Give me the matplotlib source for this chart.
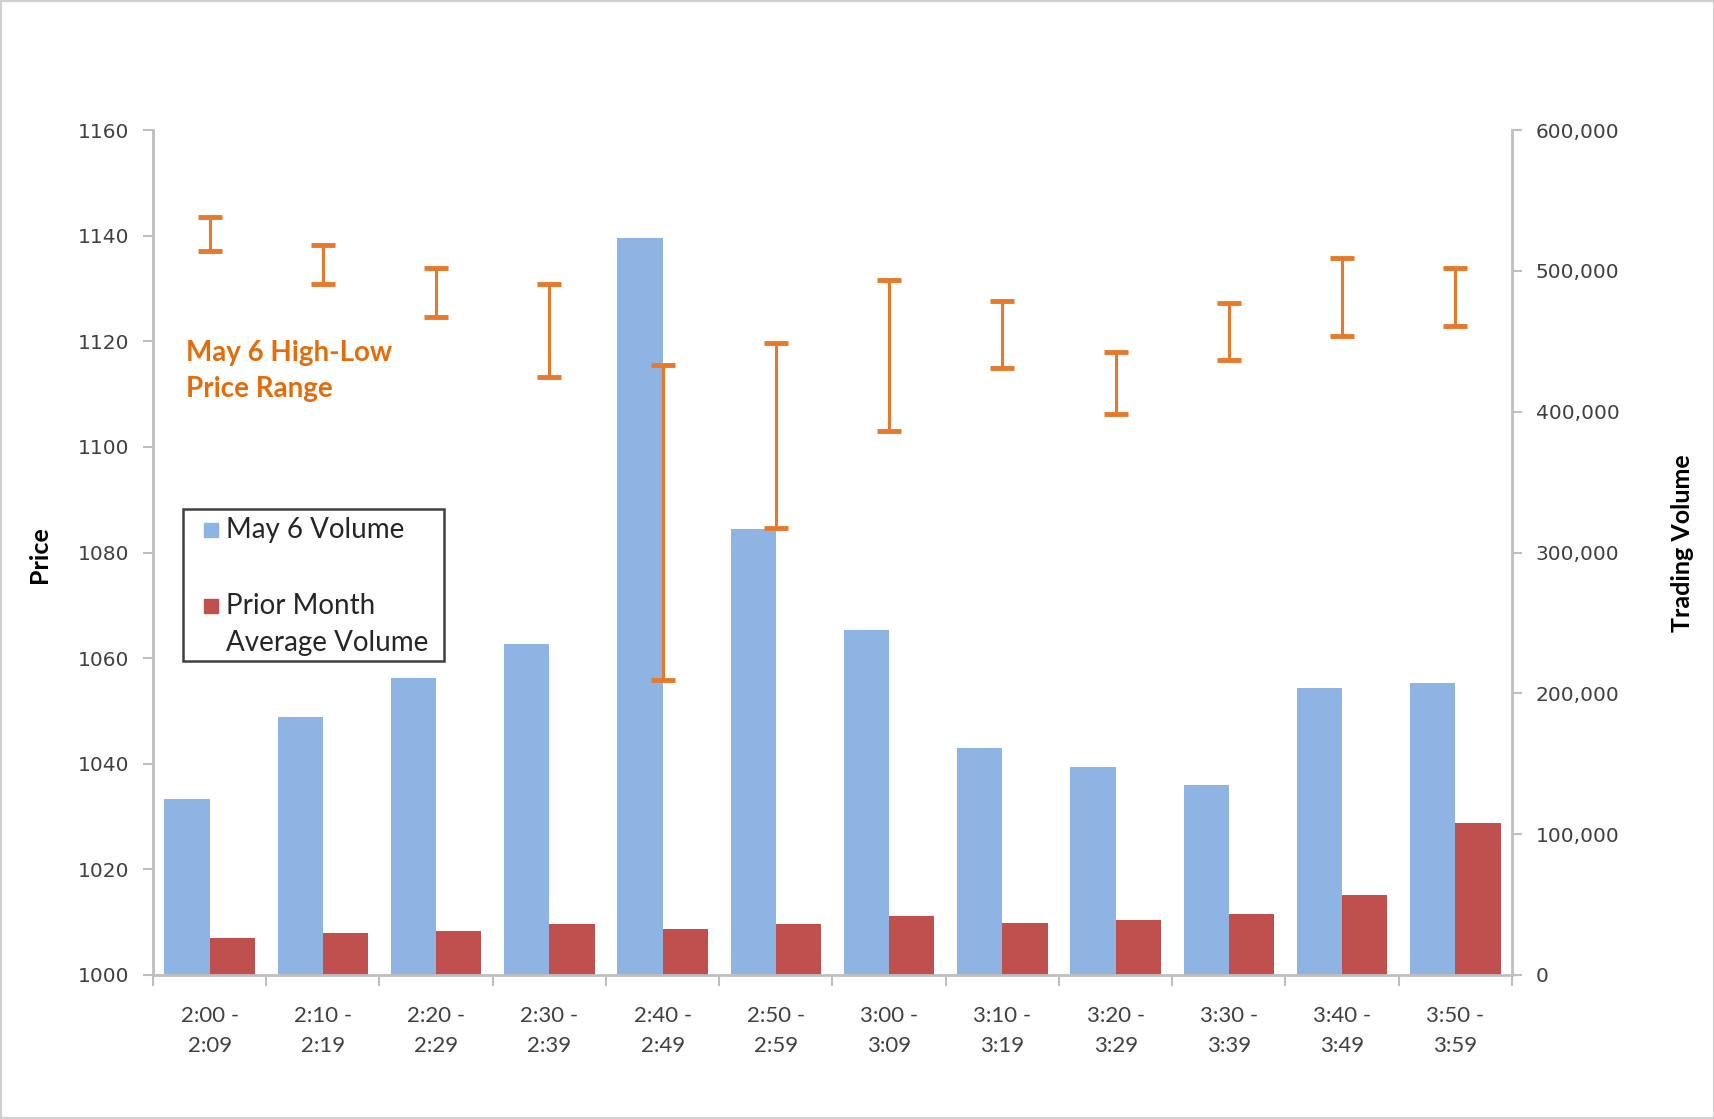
import numpy as np
import matplotlib
matplotlib.use("Agg")
from matplotlib import pyplot as plt
from matplotlib.patches import Rectangle
from matplotlib.ticker import FuncFormatter

# time buckets on May 6
intervals = ["2:00 -\n2:09", "2:10 -\n2:19", "2:20 -\n2:29", "2:30 -\n2:39",
             "2:40 -\n2:49", "2:50 -\n2:59", "3:00 -\n3:09", "3:10 -\n3:19",
             "3:20 -\n3:29", "3:30 -\n3:39", "3:40 -\n3:49", "3:50 -\n3:59"]
may6_volume = [125000, 183000, 211000, 235000, 523000, 317000,
               245000, 161000, 148000, 135000, 204000, 207000]
prior_avg_volume = [26000, 30000, 31000, 36000, 33000, 36000,
                    42000, 37000, 39000, 43000, 57000, 108000]
price_high = [1143.6, 1138.2, 1133.9, 1130.8, 1115.6, 1119.6,
              1131.6, 1127.7, 1117.9, 1127.3, 1135.8, 1133.9]
price_low = [1137.0, 1130.8, 1124.6, 1113.2, 1055.8, 1084.6,
             1103.0, 1115.0, 1106.3, 1116.5, 1121.0, 1122.9]
price_ticks = list(range(1000, 1161, 20))
volume_ticks = list(range(0, 600001, 100000))

BLUE = "#8DB4E2"
RED = "#C0504D"
ORANGE = "#E8792B"
GRID = "#BFBFBF"
TXT = "#404040"

fig = plt.figure(figsize=(17.15, 11.19), dpi=100)
ax = fig.add_axes([0.0892, 0.1287, 0.7924, 0.7551])
ax2 = ax.twinx()
# error bars (price) drawn above the volume bars
ax.set_zorder(2)
ax2.set_zorder(1)
ax.patch.set_visible(False)

x = np.arange(len(intervals))
ax2.bar(x - 0.2, may6_volume, width=0.4, color=BLUE, label="May 6 Volume")
ax2.bar(x + 0.2, prior_avg_volume, width=0.4, color=RED,
        label="Prior Month\nAverage Volume")

hi = np.array(price_high)
lo = np.array(price_low)
mid = (hi + lo) / 2
ax.errorbar(x, mid, yerr=(hi - lo) / 2, fmt="none", ecolor=ORANGE,
            elinewidth=2.2, capsize=8.5, capthick=3.5)

ax.set_xlim(-0.5, len(intervals) - 0.5)
ax.set_ylim(1000, 1160)
ax2.set_ylim(0, 600000)
ax.set_yticks(price_ticks)
ax2.set_yticks(volume_ticks)
ax2.yaxis.set_major_formatter(FuncFormatter(lambda v, p: "{:,.0f}".format(v)))

ax.set_xticks(x)
ax.set_xticklabels(intervals, fontfamily="Lato", fontsize=16, color=TXT,
                   linespacing=1.65)
ax.set_xticks(np.arange(len(intervals) + 1) - 0.5, minor=True)
ax.tick_params(axis="x", which="major", length=0, pad=22)
ax.tick_params(axis="x", which="minor", length=8, color=GRID, width=1.5)
ax.tick_params(axis="y", length=7, color=GRID, width=1.5, pad=10,
               labelsize=14.5, labelcolor=TXT)
ax2.tick_params(axis="y", length=7, color=GRID, width=1.5, pad=10,
                labelsize=14.5, labelcolor=TXT)

for s in ["top", "right"]:
    ax.spines[s].set_visible(False)
for s in ["top", "left", "bottom"]:
    ax2.spines[s].set_visible(False)
for sp in [ax.spines["left"], ax.spines["bottom"], ax2.spines["right"]]:
    sp.set_color(GRID)
    sp.set_linewidth(2)

ax.set_ylabel("Price", fontfamily="Lato", fontweight="bold", fontsize=18)
ax.yaxis.set_label_coords(-0.0748, 0.4975)
ax2.set_ylabel("Trading Volume", fontfamily="Lato", fontweight="bold", fontsize=18)
ax2.yaxis.set_label_coords(1.117, 0.5105)

ax.text(0.0243, 0.751, "May 6 High-Low\nPrice Range", transform=ax.transAxes,
        ha="left", va="top", color="#E46C0A", fontfamily="Lato",
        fontweight="bold", fontsize=20, linespacing=1.45)

# legend box, drawn by hand so the red square sits on the first line
ax.add_patch(Rectangle((0.0221, 0.3716), 0.192, 0.1799, transform=ax.transAxes,
                       fill=False, ec="#404040", lw=1.8, clip_on=False, zorder=5))
ax.plot([0.0428], [0.527], marker="s", ms=10, color=BLUE, ls="none",
        transform=ax.transAxes, clip_on=False, zorder=6)
ax.plot([0.0428], [0.4365], marker="s", ms=10, color=RED, ls="none",
        transform=ax.transAxes, clip_on=False, zorder=6)
ax.text(0.0537, 0.527, "May 6 Volume", transform=ax.transAxes, ha="left",
        va="center", fontfamily="Lato", fontsize=20, color="#262626", zorder=6)
ax.text(0.0537, 0.4365, "Prior Month", transform=ax.transAxes, ha="left",
        va="center", fontfamily="Lato", fontsize=20, color="#262626", zorder=6)
ax.text(0.0537, 0.3925, "Average Volume", transform=ax.transAxes, ha="left",
        va="center", fontfamily="Lato", fontsize=20, color="#262626", zorder=6)

fig.patches.append(Rectangle((0, 0), 1, 1, transform=fig.transFigure,
                             fill=False, ec="#D0D0D0", lw=3))

fig.savefig("out.png", dpi=100)
